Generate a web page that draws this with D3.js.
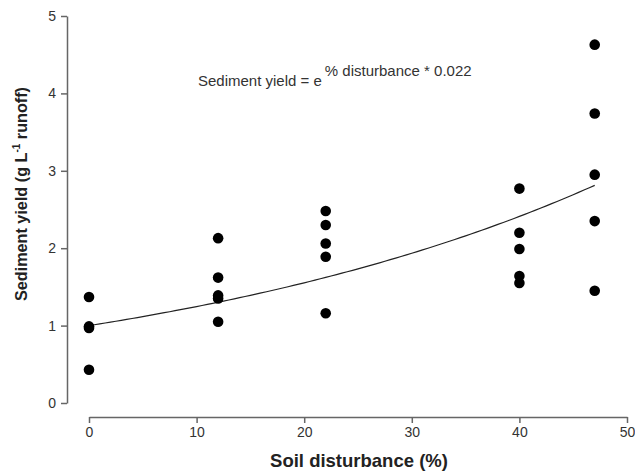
<!DOCTYPE html>
<html lang="en">
<head>
<meta charset="utf-8">
<title>Sediment yield</title>
<script src="https://cdn.jsdelivr.net/npm/d3@7"></script>
<style>
  body { margin: 0; padding: 0; background: #fff; overflow: hidden; }
  text { font-family: "Liberation Sans", Arial, sans-serif; }
  .axis path, .axis line { stroke: #666; stroke-width: 1.5px; }
  .axis text { fill: #333; font-size: 14px; }
  .lab { font-weight: bold; fill: #222; }
</style>
</head>
<body>
<script>
// data
var disturbance = [0, 0, 0, 0, 12, 12, 12, 12, 12, 22, 22, 22, 22, 22, 40, 40, 40, 40, 40, 47, 47, 47, 47, 47];
var sedYield = [1.37, 0.99, 0.97, 0.43, 2.13, 1.62, 1.39, 1.35, 1.05, 2.48, 2.30, 2.06, 1.89, 1.16, 2.77, 2.20, 1.99, 1.64, 1.55, 4.63, 3.74, 2.95, 2.35, 1.45];
var xTicks = [0, 10, 20, 30, 40, 50];
var yTicks = [0, 1, 2, 3, 4, 5];
var coef = 0.022;

var W = 635, H = 472;
var svg = d3.select('body').append('svg')
    .attr('width', W)
    .attr('height', H);

var x = d3.scaleLinear().domain([0, 50]).range([89, 627]);
var y = d3.scaleLinear().domain([0, 5]).range([403, 16]);

// x axis, detached below the plot
svg.append('g')
    .attr('class', 'axis')
    .attr('transform', 'translate(0,417)')
    .call(d3.axisBottom(x).tickValues(xTicks).tickFormat(d3.format('d'))
        .tickSize(6).tickPadding(4).tickSizeOuter(0));

// y axis, detached left
svg.append('g')
    .attr('class', 'axis')
    .attr('transform', 'translate(67,0)')
    .call(d3.axisLeft(y).tickValues(yTicks).tickFormat(d3.format('d'))
        .tickSize(6).tickPadding(5).tickSizeOuter(0));

// fitted curve
var curveX = d3.range(0, 47.01, 0.5);
svg.append('path')
    .datum(curveX)
    .attr('fill', 'none')
    .attr('stroke', '#222')
    .attr('stroke-width', 1.2)
    .attr('d', d3.line().x(function(d){ return x(d); }).y(function(d){ return y(Math.exp(d * coef)); }));

// points
svg.selectAll('circle.pt')
    .data(sedYield)
    .enter().append('circle')
    .attr('class', 'pt')
    .attr('cx', function(d, i){ return x(disturbance[i]); })
    .attr('cy', function(d){ return y(d); })
    .attr('r', 5.3)
    .attr('fill', '#000');

// equation
var eq = svg.append('text')
    .attr('x', 198)
    .attr('y', 86)
    .attr('font-size', 15)
    .attr('fill', '#333');
eq.append('tspan').text('Sediment yield = e');
eq.append('tspan').attr('dy', -10).attr('dx', 3).text('% disturbance * 0.022');

// axis titles
svg.append('text')
    .attr('class', 'lab')
    .attr('font-size', 18.5)
    .attr('x', 359)
    .attr('y', 467)
    .attr('text-anchor', 'middle')
    .text('Soil disturbance (%)');

var yl = svg.append('text')
    .attr('class', 'lab')
    .attr('font-size', 16.2)
    .attr('transform', 'translate(27,194) rotate(-90)')
    .attr('text-anchor', 'middle');
yl.append('tspan').text('Sediment yield (g L');
yl.append('tspan').attr('dy', -7).attr('font-size', 10).text('-1');
yl.append('tspan').attr('dy', 7).text(' runoff)');
</script>
</body>
</html>
